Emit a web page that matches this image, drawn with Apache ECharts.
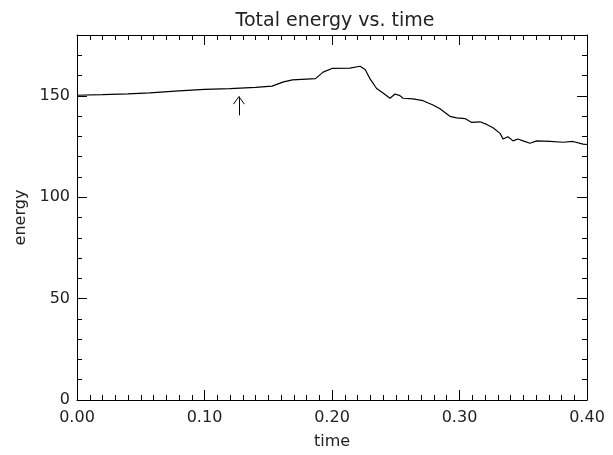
<!DOCTYPE html>
<html>
<head>
<meta charset="utf-8">
<script src="https://cdn.jsdelivr.net/npm/echarts@6/dist/echarts.min.js"></script>
<style>html,body{margin:0;padding:0;background:#fff;}#c{width:613px;height:455px;}</style>
</head>
<body>
<div id="c"></div>
<script>
const titleText = "Total energy vs. time";
const xName = "time";
const yName = "energy";
const timeValues = [0.000, 0.020, 0.040, 0.057, 0.080, 0.100, 0.120, 0.140, 0.153, 0.162, 0.169, 0.187, 0.193, 0.200, 0.214, 0.222, 0.226, 0.230, 0.235, 0.240, 0.2455, 0.2494, 0.2533, 0.2557, 0.2635, 0.2714, 0.2792, 0.2847, 0.2925, 0.2978, 0.3043, 0.3096, 0.3161, 0.3213, 0.3263, 0.3318, 0.3341, 0.338, 0.342, 0.3459, 0.3498, 0.3553, 0.3606, 0.371, 0.3812, 0.389, 0.3969, 0.400];
const energyValues = [150.3, 150.6, 151.0, 151.5, 152.4, 153.2, 153.6, 154.2, 154.8, 156.9, 157.9, 158.5, 161.7, 163.5, 163.7, 164.6, 163.0, 158.2, 153.6, 151.4, 148.8, 150.9, 150.1, 148.8, 148.5, 147.6, 145.5, 143.6, 139.9, 139.1, 138.8, 136.9, 137.2, 135.9, 134.3, 131.5, 128.7, 129.8, 127.8, 128.7, 127.8, 126.6, 127.8, 127.5, 127.1, 127.5, 126.2, 126.0];
const xTicks = [0, 0.1, 0.2, 0.3, 0.4];
const yTicks = [0, 50, 100, 150];
const arrowX = 0.127;
const arrowTail = 140.4;
const arrowTip = 149.6;
const arrowHeadDx = 0.0043;
const arrowHeadDy = 3.7;

const chart = echarts.init(document.getElementById('c'), null, {renderer: 'canvas'});
const font = 'DejaVu Sans';
const txt = '#222';
const axisCommon = {
  type: 'value',
  axisLine: {show: true, onZero: false, lineStyle: {color: '#000', width: 1}},
  axisTick: {show: true, inside: true, length: 10, lineStyle: {color: '#000', width: 1}},
  minorTick: {show: true, length: 5, lineStyle: {color: '#000', width: 1}},
  splitLine: {show: false}
};
const seriesData = timeValues.map((t, i) => [t, energyValues[i]]);
const option = {
  animation: false,
  backgroundColor: '#fff',
  title: {
    text: titleText, left: 330, top: 7, textAlign: 'center',
    textStyle: {fontFamily: font, fontSize: 19, fontWeight: 'normal', color: txt}
  },
  grid: {left: 77, right: 26, top: 35, bottom: 49, containLabel: false},
  xAxis: [
    Object.assign({}, axisCommon, {
      position: 'bottom', min: xTicks[0], max: xTicks[xTicks.length - 1], interval: 0.1,
      minorTick: Object.assign({}, axisCommon.minorTick, {splitNumber: 10}),
      axisLabel: {show: true, margin: 10, fontFamily: font, fontSize: 16, color: txt, formatter: v => v.toFixed(2)},
      name: xName, nameLocation: 'middle', nameGap: 34,
      nameTextStyle: {fontFamily: font, fontSize: 16, color: txt}
    }),
    Object.assign({}, axisCommon, {
      position: 'top', min: xTicks[0], max: xTicks[xTicks.length - 1], interval: 0.1,
      minorTick: Object.assign({}, axisCommon.minorTick, {splitNumber: 10}),
      axisLabel: {show: false}
    })
  ],
  yAxis: [
    Object.assign({}, axisCommon, {
      position: 'left', min: 0, max: 180, interval: 50,
      minorTick: Object.assign({}, axisCommon.minorTick, {splitNumber: 5}),
      axisLabel: {show: true, margin: 7, fontFamily: font, fontSize: 16, color: txt,
        formatter: v => (yTicks.indexOf(v) >= 0 ? String(v) : '')},
      name: yName, nameLocation: 'middle', nameGap: 40,
      nameTextStyle: {fontFamily: font, fontSize: 16, color: txt}
    }),
    Object.assign({}, axisCommon, {
      position: 'right', min: 0, max: 180, interval: 50,
      minorTick: Object.assign({}, axisCommon.minorTick, {splitNumber: 5}),
      axisLabel: {show: false}
    })
  ],
  series: [
    {
      type: 'line', xAxisIndex: 0, yAxisIndex: 0, data: seriesData,
      showSymbol: false, symbol: 'none',
      lineStyle: {color: '#000', width: 1.2},
      markLine: {
        silent: true, symbol: ['none', 'none'], label: {show: false},
        lineStyle: {color: '#000', width: 1, type: 'solid'},
        data: [
          [{coord: [arrowX, arrowTail]}, {coord: [arrowX, arrowTip]}],
          [{coord: [arrowX - arrowHeadDx, arrowTip - arrowHeadDy]}, {coord: [arrowX, arrowTip]}],
          [{coord: [arrowX + arrowHeadDx, arrowTip - arrowHeadDy]}, {coord: [arrowX, arrowTip]}]
        ]
      }
    }
  ]
};
chart.setOption(option);
</script>
</body>
</html>
